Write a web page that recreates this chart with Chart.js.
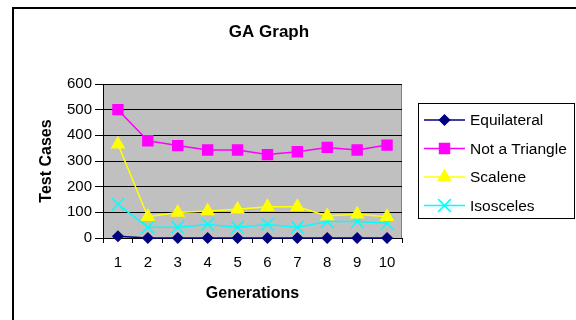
<!DOCTYPE html>
<html>
<head>
<meta charset="utf-8">
<script src="https://cdn.jsdelivr.net/npm/chart.js@4.4.1/dist/chart.umd.min.js"></script>
<style>
  html, body { margin: 0; padding: 0; background: #fff; overflow: hidden; }
  #wrap { position: relative; width: 576px; height: 320px; overflow: hidden; }
  canvas { position: absolute; left: 0; top: 0; }
</style>
</head>
<body>
<div id="wrap">
  <canvas id="chart" width="576" height="320"></canvas>
  <canvas id="legend" width="576" height="320"></canvas>
</div>
<script>
const generations = ["1", "2", "3", "4", "5", "6", "7", "8", "9", "10"];
const equilateral = [7, 0, 0, 0, 0, 0, 0, 0, 0, 0];
const notTriangle = [500, 379, 360, 343, 343, 325, 336, 353, 343, 362];
const scalene = [365, 83, 99, 105, 112, 122, 122, 86, 93, 83];
const isosceles = [131, 42, 42, 53, 42, 53, 42, 64, 64, 57];
const yTicks = [0, 100, 200, 300, 400, 500, 600];

const FONT = "'Liberation Sans', Arial, sans-serif";

const series = [
  { label: "Equilateral", data: equilateral, color: "#000080", style: "rectRot", r: 5 },
  { label: "Not a Triangle", data: notTriangle, color: "#FF00FF", style: "rect", r: 7 },
  { label: "Scalene", data: scalene, color: "#FFFF00", style: "triangle", r: 7 },
  { label: "Isosceles", data: isosceles, color: "#00FFFF", style: "crossRot", r: 9 },
];

// outer chart frame, title and grey plot background
const plotBg = {
  id: "plotBg",
  beforeDraw(chart) {
    const a = chart.chartArea;
    const ctx = chart.ctx;
    ctx.save();
    ctx.fillStyle = "#000";
    ctx.fillRect(12, 7, 2, 320 - 7);
    ctx.fillRect(12, 7, 576 - 12, 2);
    ctx.font = "bold 17px " + FONT;
    ctx.textAlign = "center";
    ctx.textBaseline = "middle";
    ctx.fillText("GA Graph", 269, 32);
    ctx.fillStyle = "#C0C0C0";
    ctx.fillRect(a.left, a.top, a.right - a.left, a.bottom - a.top);
    ctx.strokeStyle = "#808080";
    ctx.lineWidth = 1;
    ctx.strokeRect(a.left + 0.5, a.top + 0.5, a.right - a.left - 1, a.bottom - a.top);
    ctx.restore();
  },
};

new Chart(document.getElementById("chart"), {
  type: "line",
  data: {
    labels: generations,
    datasets: series.map((s) => ({
      label: s.label,
      data: s.data,
      borderColor: s.color,
      backgroundColor: s.color,
      pointBorderColor: s.color,
      pointBackgroundColor: s.color,
      borderWidth: 1.5,
      pointStyle: s.style,
      pointRadius: s.r,
      pointBorderWidth: 1.5,
      tension: 0,
      clip: false,
    })),
  },
  options: {
    responsive: false,
    animation: false,
    events: [],
    layout: { padding: { left: 12, right: 174, top: 84, bottom: 0 } },
    plugins: {
      legend: { display: false },
      tooltip: { enabled: false },
      title: { display: false },
    },
    scales: {
      x: {
        offset: true,
        grid: { offset: true, drawOnChartArea: false, drawTicks: true, tickLength: 5, color: "#000" },
        border: { color: "#000", width: 1 },
        ticks: { color: "#000", font: { family: FONT, size: 15 }, padding: 11, maxRotation: 0 },
        title: {
          display: true,
          text: "Generations",
          color: "#000",
          font: { family: FONT, size: 16, weight: "bold" },
          padding: { top: 0, bottom: 17 },
        },
        afterFit(s) {
          s.height = 82;
          s.paddingLeft = 0;
          s.paddingRight = 0;
        },
      },
      y: {
        min: 0,
        max: 600,
        afterBuildTicks(s) { s.ticks = yTicks.map((v) => ({ value: v })); },
        grid: { color: "#000", lineWidth: 1, tickLength: 8, drawTicks: true },
        border: { color: "#000", width: 1 },
        ticks: { color: "#000", font: { family: FONT, size: 15 }, padding: 3 },
        title: {
          display: true,
          text: "Test Cases",
          color: "#000",
          font: { family: FONT, size: 16, weight: "bold" },
          padding: { top: 25, bottom: 0 },
        },
        afterFit(s) {
          s.width = 91;
          s.paddingTop = 0;
          s.paddingBottom = 0;
        },
      },
    },
  },
  plugins: [plotBg],
});

// boxed legend on its own canvas, line + marker samples
function drawMarker(ctx, style, r, x, y) {
  ctx.beginPath();
  if (style === "rectRot") {
    ctx.moveTo(x - r, y);
    ctx.lineTo(x, y - r);
    ctx.lineTo(x + r, y);
    ctx.lineTo(x, y + r);
    ctx.closePath();
    ctx.fill();
    ctx.stroke();
  } else if (style === "rect") {
    const h = r * Math.SQRT1_2;
    ctx.rect(x - h, y - h, 2 * h, 2 * h);
    ctx.fill();
    ctx.stroke();
  } else if (style === "triangle") {
    const edge = (3 * r) / Math.sqrt(3);
    const ht = (edge * Math.sqrt(3)) / 2;
    ctx.moveTo(x - edge / 2, y + ht / 3);
    ctx.lineTo(x + edge / 2, y + ht / 3);
    ctx.lineTo(x, y - (2 * ht) / 3);
    ctx.closePath();
    ctx.fill();
    ctx.stroke();
  } else {
    const o = r * Math.SQRT1_2;
    ctx.moveTo(x - o, y - o);
    ctx.lineTo(x + o, y + o);
    ctx.moveTo(x - o, y + o);
    ctx.lineTo(x + o, y - o);
    ctx.stroke();
  }
}

const lctx = document.getElementById("legend").getContext("2d");
lctx.fillStyle = "#fff";
lctx.fillRect(418, 103, 156, 115);
lctx.strokeStyle = "#000";
lctx.lineWidth = 1;
lctx.strokeRect(418.5, 103.5, 156, 115);
lctx.font = "15.5px " + FONT;
lctx.textBaseline = "middle";
series.forEach((s, i) => {
  const y = 120 + i * 28.5;
  lctx.strokeStyle = s.color;
  lctx.fillStyle = s.color;
  lctx.lineWidth = 1.5;
  lctx.beginPath();
  lctx.moveTo(424, y);
  lctx.lineTo(465, y);
  lctx.stroke();
  drawMarker(lctx, s.style, s.r, 444.5, y);
  lctx.fillStyle = "#000";
  lctx.fillText(s.label, 470, y + 1);
});
</script>
</body>
</html>
